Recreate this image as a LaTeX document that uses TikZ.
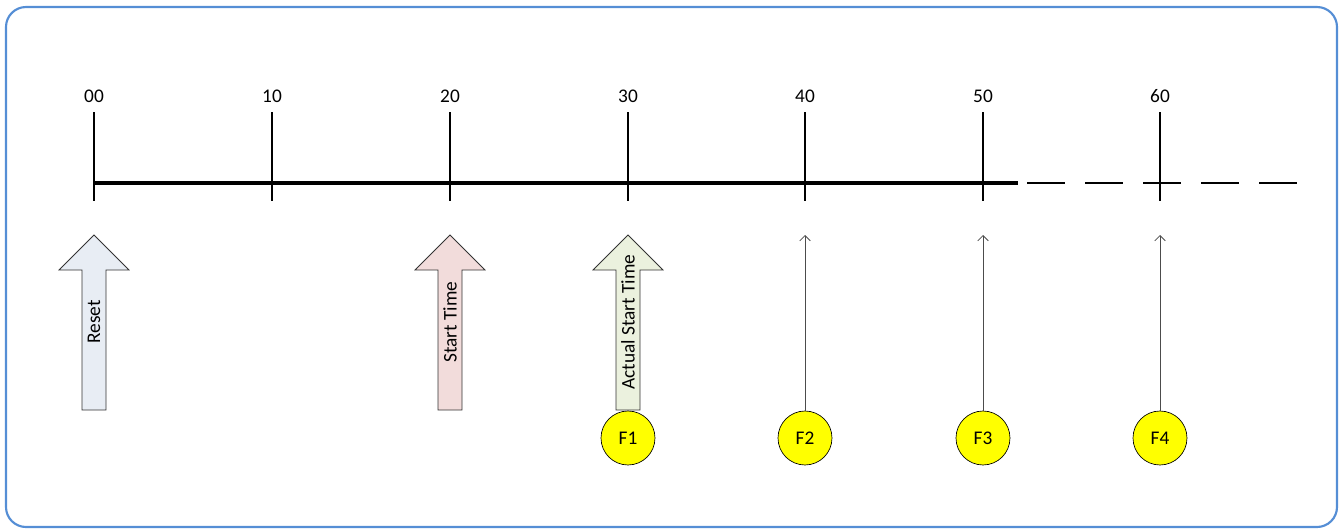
\documentclass[tikz,border=0pt]{standalone}
\usepackage{fontspec}
\setmainfont{Carlito}
\usetikzlibrary{arrows.meta}
\definecolor{frameblue}{RGB}{85,142,213}
\definecolor{resetfill}{RGB}{232,237,244}
\definecolor{startfill}{RGB}{242,220,219}
\definecolor{actualfill}{RGB}{235,241,222}
\definecolor{fyellow}{RGB}{255,255,0}
\tikzset{
  ticklabel/.style={font=\fontsize{14.5}{17}\selectfont, inner sep=0pt},
  tickline/.style={line width=1.5pt},
  mainline/.style={line width=2.4pt},
  dashline/.style={line width=1.3pt, dash pattern=on 28.5pt off 15pt},
  bigarrow/.style={draw=black!80, line width=0.6pt},
  arrowtext/.style={font=\fontsize{14.5}{17}\selectfont, rotate=90, inner sep=0pt},
  fcircle/.style={circle, draw=black, line width=0.5pt, fill=fyellow, minimum size=40.5pt, inner sep=0pt, font=\fontsize{14.5}{17}\selectfont},
  thinarrow/.style={draw=black!70, line width=0.6pt, -{Straight Barb[length=4pt,width=8pt,line width=0.6pt]}},
}
\begin{document}
\begin{tikzpicture}[x=0.75pt,y=-0.75pt]
\useasboundingbox (0,0) rectangle (1340,529);
\draw[frameblue, line width=1.6pt, rounded corners=15pt] (6,7) rectangle (1337,527);

% main line
\coordinate (L0) at (94,183);
\coordinate (L1) at (1018,183);
\coordinate (D0) at (1027,183);
\coordinate (D1) at (1302,183);
\draw[mainline] (L0) -- (L1);
\draw[dashline] (D0) -- (D1);

% ticks and labels
\foreach \i/\x/\t in {0/94/00,1/272/10,2/450/20,3/628/30,4/805/40,5/983/50,6/1160/60}{
  \coordinate (t\i a) at (\x,112);
  \coordinate (t\i b) at (\x,201);
  \draw[tickline] (t\i a) -- (t\i b);
  \node[ticklabel] (lab\i) at (\x,96) {\t};
}

% big arrows
\foreach \x/\c/\n in {94/resetfill/ra,450/startfill/sa,628/actualfill/aa}{
  \filldraw[bigarrow, fill=\c] (\x-12,410) -- (\x-12,270) -- (\x-35,270) -- (\x,235) -- (\x+35,270) -- (\x+12,270) -- (\x+12,410) -- cycle;
}
\node[arrowtext] (reset) at (94,322) {Reset};
\node[arrowtext] (start) at (450,322) {Start Time};
\node[arrowtext] (actual) at (628,322) {Actual Start Time};

% circles
\node[fcircle] (F1) at (628,438) {F1};
\node[fcircle] (F2) at (805,438) {F2};
\node[fcircle] (F3) at (983,438) {F3};
\node[fcircle] (F4) at (1160,438) {F4};

\coordinate (p2) at (805,235);
\coordinate (p3) at (983,235);
\coordinate (p4) at (1160,235);
\draw[thinarrow] (F2.north) -- (p2);
\draw[thinarrow] (F3.north) -- (p3);
\draw[thinarrow] (F4.north) -- (p4);
\end{tikzpicture}
\end{document}
